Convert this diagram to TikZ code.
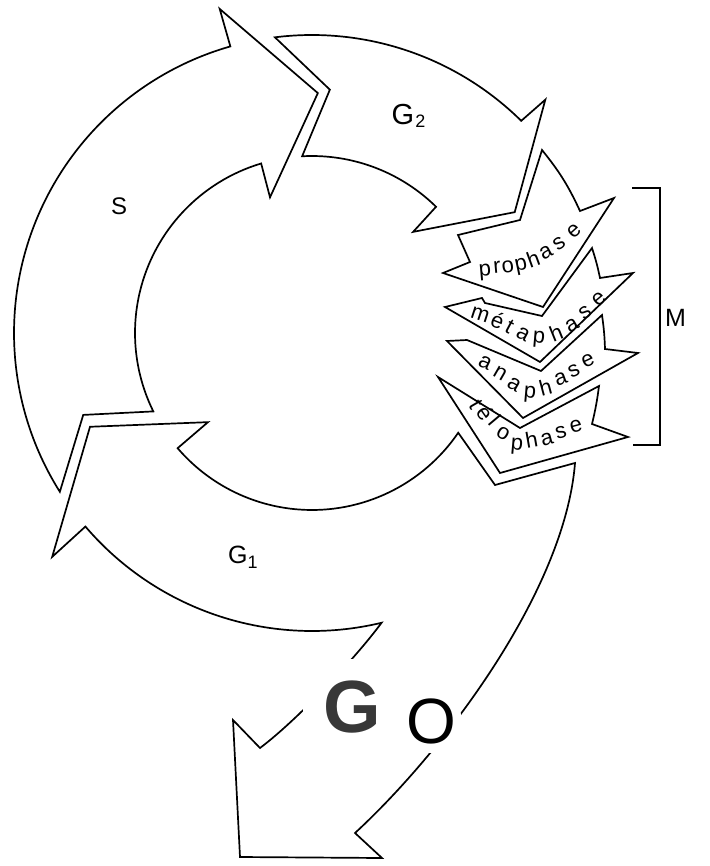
\documentclass[tikz,border=0pt]{standalone}
\usepackage{fontspec}
\usetikzlibrary{calc}
\newfontfamily\lblfont{Liberation Sans}
\newcommand\phasefont{\lblfont\fontsize{22}{22}\selectfont}

\begin{document}
\begin{tikzpicture}[x=1pt,y=1pt,
  ringline/.style={draw=black, line width=1.7pt},
  lbl/.style={inner sep=0pt, anchor=base west},
  phasechar/.style={inner sep=0pt, font=\phasefont, text height=11.4pt, text depth=0pt, anchor=center},
]
\useasboundingbox (0,0) rectangle (709,-866);
\fill[white] (0,0) rectangle (709,-866);
\coordinate (C) at (312,-333);

% S phase
\draw[ringline] ($(C)+(212.2:298)$) arc[start angle=212.2, end angle=105.9, radius=298]
  -- ($(C)+(105.9:337)$) -- ($(C)+(88.6:240)$) -- ($(C)+(107.2:142)$) -- ($(C)+(106.7:177)$)
  arc[start angle=106.7, end angle=206.3, radius=177] -- ($(C)+(199.7:243)$) -- cycle;

% G2 phase
\draw[ringline] ($(C)+(97.15:298)$) arc[start angle=97.15, end angle=45.4, radius=298]
  -- ($(C)+(45:330)$) -- ($(C)+(30.8:236)$) -- ($(C)+(45:143)$) -- ($(C)+(45.5:177)$)
  arc[start angle=45.5, end angle=93.2, radius=177] -- ($(C)+(85.8:244)$) -- cycle;

% G1 phase joined with the G0 branch
\draw[ringline] ($(C)+(220.5:298)$) arc[start angle=220.5, end angle=283.5, radius=298]
  .. controls (354,-660) and (296,-721) .. (260,-748)
  -- (233,-720) -- (240,-857) -- (382,-858) -- (355,-833)
  .. controls (445,-750) and (565,-590) .. (575,-463)
  -- (495,-485) -- ($(C)+(325.7:177)$)
  arc[start angle=325.7, end angle=220.6, radius=177]
  -- ($(C)+(220.6:137)$) -- ($(C)+(202.9:241)$) -- ($(C)+(220.75:343)$) -- cycle;

% mitosis stages
\draw[ringline] (458,-235) -- (520,-220) -- (542,-150) to[bend left=7] (580,-211)
  -- (614,-198) -- (543,-307) -- (443,-273) -- (470,-262) -- cycle;
\draw[ringline] (445,-307) -- (482,-298) -- (485,-303) -- (542,-316) -- (592,-248)
  to[bend left=3] (600,-278) -- (633,-273) -- (540,-362) -- cycle;
\draw[ringline] (447,-341) -- (467,-340) -- (541,-371) -- (602,-315)
  to[bend left=3] (605,-349) -- (638,-353) -- (523,-418) -- cycle;
\draw[ringline] (438,-377) -- (520,-428) -- (599,-386) to[bend left=3] (592,-424)
  -- (628,-437) -- (500,-473) -- cycle;

% stage names, set letter by letter along each chevron
\foreach \ch/\px/\py/\rot [count=\k] in {p/485/270/5, r/497/268/5, o/508/267/8,
    p/521/265/12, h/534/261/20, a/546/253/28, s/559/244/35, e/574/231/42}
  \node[phasechar, rotate=\rot] (pro\k) at (\px,-\py) {\ch};
\foreach \ch/\px/\py/\rot [count=\k] in {m/480/315/-18, é/497/323/-22, t/509/328/-28,
    a/523/334/-28, p/539/337/-5, h/557/335/22, a/572/326/30, s/585/313/35, e/599/299/40}
  \node[phasechar, rotate=\rot] (meta\k) at (\px,-\py) {\ch};
\foreach \ch/\px/\py/\rot [count=\k] in {a/485/363/-25, n/500/374/-30, a/514/385/-30,
    p/530/392/-5, h/546/389/15, a/561/379/20, s/574/371/25, e/588/361/25}
  \node[phasechar, rotate=\rot] (ana\k) at (\px,-\py) {\ch};
\foreach \ch/\px/\py/\rot [count=\k] in {t/475/405/-60, é/484/414/-55, l/493/422/-50,
    o/503/434/-30, p/517/444/-5, h/532/442/10, a/547/439/15, s/561/433/15, e/576/426/15}
  \node[phasechar, rotate=\rot] (telo\k) at (\px,-\py) {\ch};

% bracket for M
\draw[line width=1.4pt] (632,-188) -- (660,-188) -- (660,-445) -- (633,-445);

% gaps in the G0 outline around its letters
\fill[white] (352,-708) circle[radius=49];
\fill[white] (431,-722) circle[radius=31];

% labels
\node[lbl] (sLabel) at (111,-215) {\lblfont\fontsize{24}{24}\selectfont S};
\node[lbl] (gTwoLabel) at (391.5,-125) {\lblfont\fontsize{29}{29}\selectfont G\kern1pt\raisebox{-3pt}{\fontsize{18}{18}\selectfont 2}};
\node[lbl] (gOneLabel) at (228,-563) {\lblfont\fontsize{25}{25}\selectfont G\raisebox{-5pt}{\fontsize{18}{18}\selectfont 1}};
\node[lbl] (mLabel) at (665,-326) {\lblfont\fontsize{25}{25}\selectfont M};
\node[inner sep=0pt, text=black!78] (gZeroG) at (352.5,-707.5) {\lblfont\bfseries\fontsize{74}{74}\selectfont G};
\node[inner sep=0pt] (gZeroO) at (431,-721.5) {\lblfont\fontsize{64}{64}\selectfont O};
\end{tikzpicture}
\end{document}
